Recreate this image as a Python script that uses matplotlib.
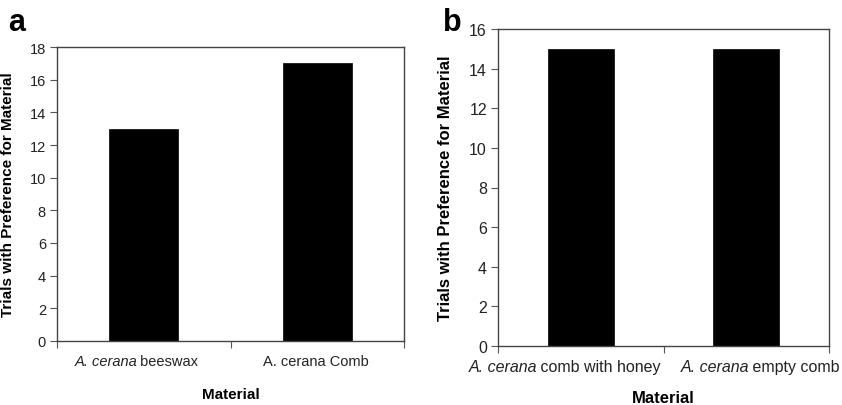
import matplotlib.pyplot as plt
import numpy as np
from matplotlib.offsetbox import TextArea, HPacker, AnnotationBbox

plt.rcParams['font.family'] = ['Liberation Sans', 'DejaVu Sans']

# panel a
labels_a = [[('A. cerana', 'italic'), (' beeswax', 'normal')],
            [('A. cerana Comb', 'normal')]]
trials_a = [13, 17]
yticks_a = np.arange(0, 19, 2)

# panel b
labels_b = [[('A. cerana', 'italic'), (' comb with honey', 'normal')],
            [('A. cerana', 'italic'), (' empty comb', 'normal')]]
trials_b = [15, 15]
yticks_b = np.arange(0, 17, 2)

fig = plt.figure(figsize=(8.42, 4.06), dpi=100)
W, H = 842, 406


def mixed_label(ax, xpos, pieces, fs, dy, dx):
    parts = [TextArea(s, textprops=dict(fontsize=fs, style=st, color='#222222'))
             for s, st in pieces]
    box = HPacker(children=parts, align='baseline', pad=0, sep=-1)
    ab = AnnotationBbox(box, (xpos, 0), xycoords=('data', 'axes fraction'),
                        xybox=(dx * 0.72, -dy * 0.72), boxcoords='offset points',
                        box_alignment=(0.5, 0.5), frameon=False, pad=0,
                        annotation_clip=False)
    ax.add_artist(ab)


def panel(rect, labels, vals, yticks, letter, letter_xy, label_x, fs, lfs,
          dy, shifts, label_y):
    l, t, r, b = rect
    ax = fig.add_axes([l / W, 1 - b / H, (r - l) / W, (b - t) / H])
    x = np.arange(len(vals))
    ax.bar(x, vals, width=0.4, color='black', edgecolor='black', linewidth=0.5)
    ax.set_xlim(-0.5, len(vals) - 0.5)
    ax.set_ylim(yticks[0], yticks[-1])
    ax.set_yticks(yticks)
    ax.set_yticklabels([str(v) for v in yticks], fontsize=fs, color='#222222')
    # ticks sit at the category boundaries
    ax.set_xticks(np.arange(len(vals) + 1) - 0.5)
    ax.set_xticklabels([])
    ax.tick_params(axis='x', length=5, direction='out', color='#555555')
    ax.tick_params(axis='y', length=5, direction='out', color='#555555', pad=3)
    for i, pieces in enumerate(labels):
        mixed_label(ax, x[i], pieces, fs, dy, shifts[i])
    for s in ax.spines.values():
        s.set_color('#444444')
        s.set_linewidth(1.0)
    ax.set_xlabel('Material', fontsize=lfs, fontweight='bold', va='center')
    ax.xaxis.set_label_coords(0.5, label_y)
    ax.yaxis.set_label_coords(label_x, 0.5)
    ax.set_ylabel('Trials with Preference for Material', fontsize=lfs, fontweight='bold')
    fig.text(letter_xy[0] / W, 1 - letter_xy[1] / H, letter, fontsize=22,
             fontweight='bold', ha='left', va='center')
    return ax


panel((57, 48, 404, 342), labels_a, trials_a, yticks_a, 'a', (8, 23),
      -0.122, 10.5, 11, 20, (-7, -1), -0.18)
panel((498, 30, 829, 347), labels_b, trials_b, yticks_b, 'b', (443, 23),
      -0.136, 11.5, 12, 21, (-16, 14), -0.161)

fig.savefig('out.png', dpi=100)
